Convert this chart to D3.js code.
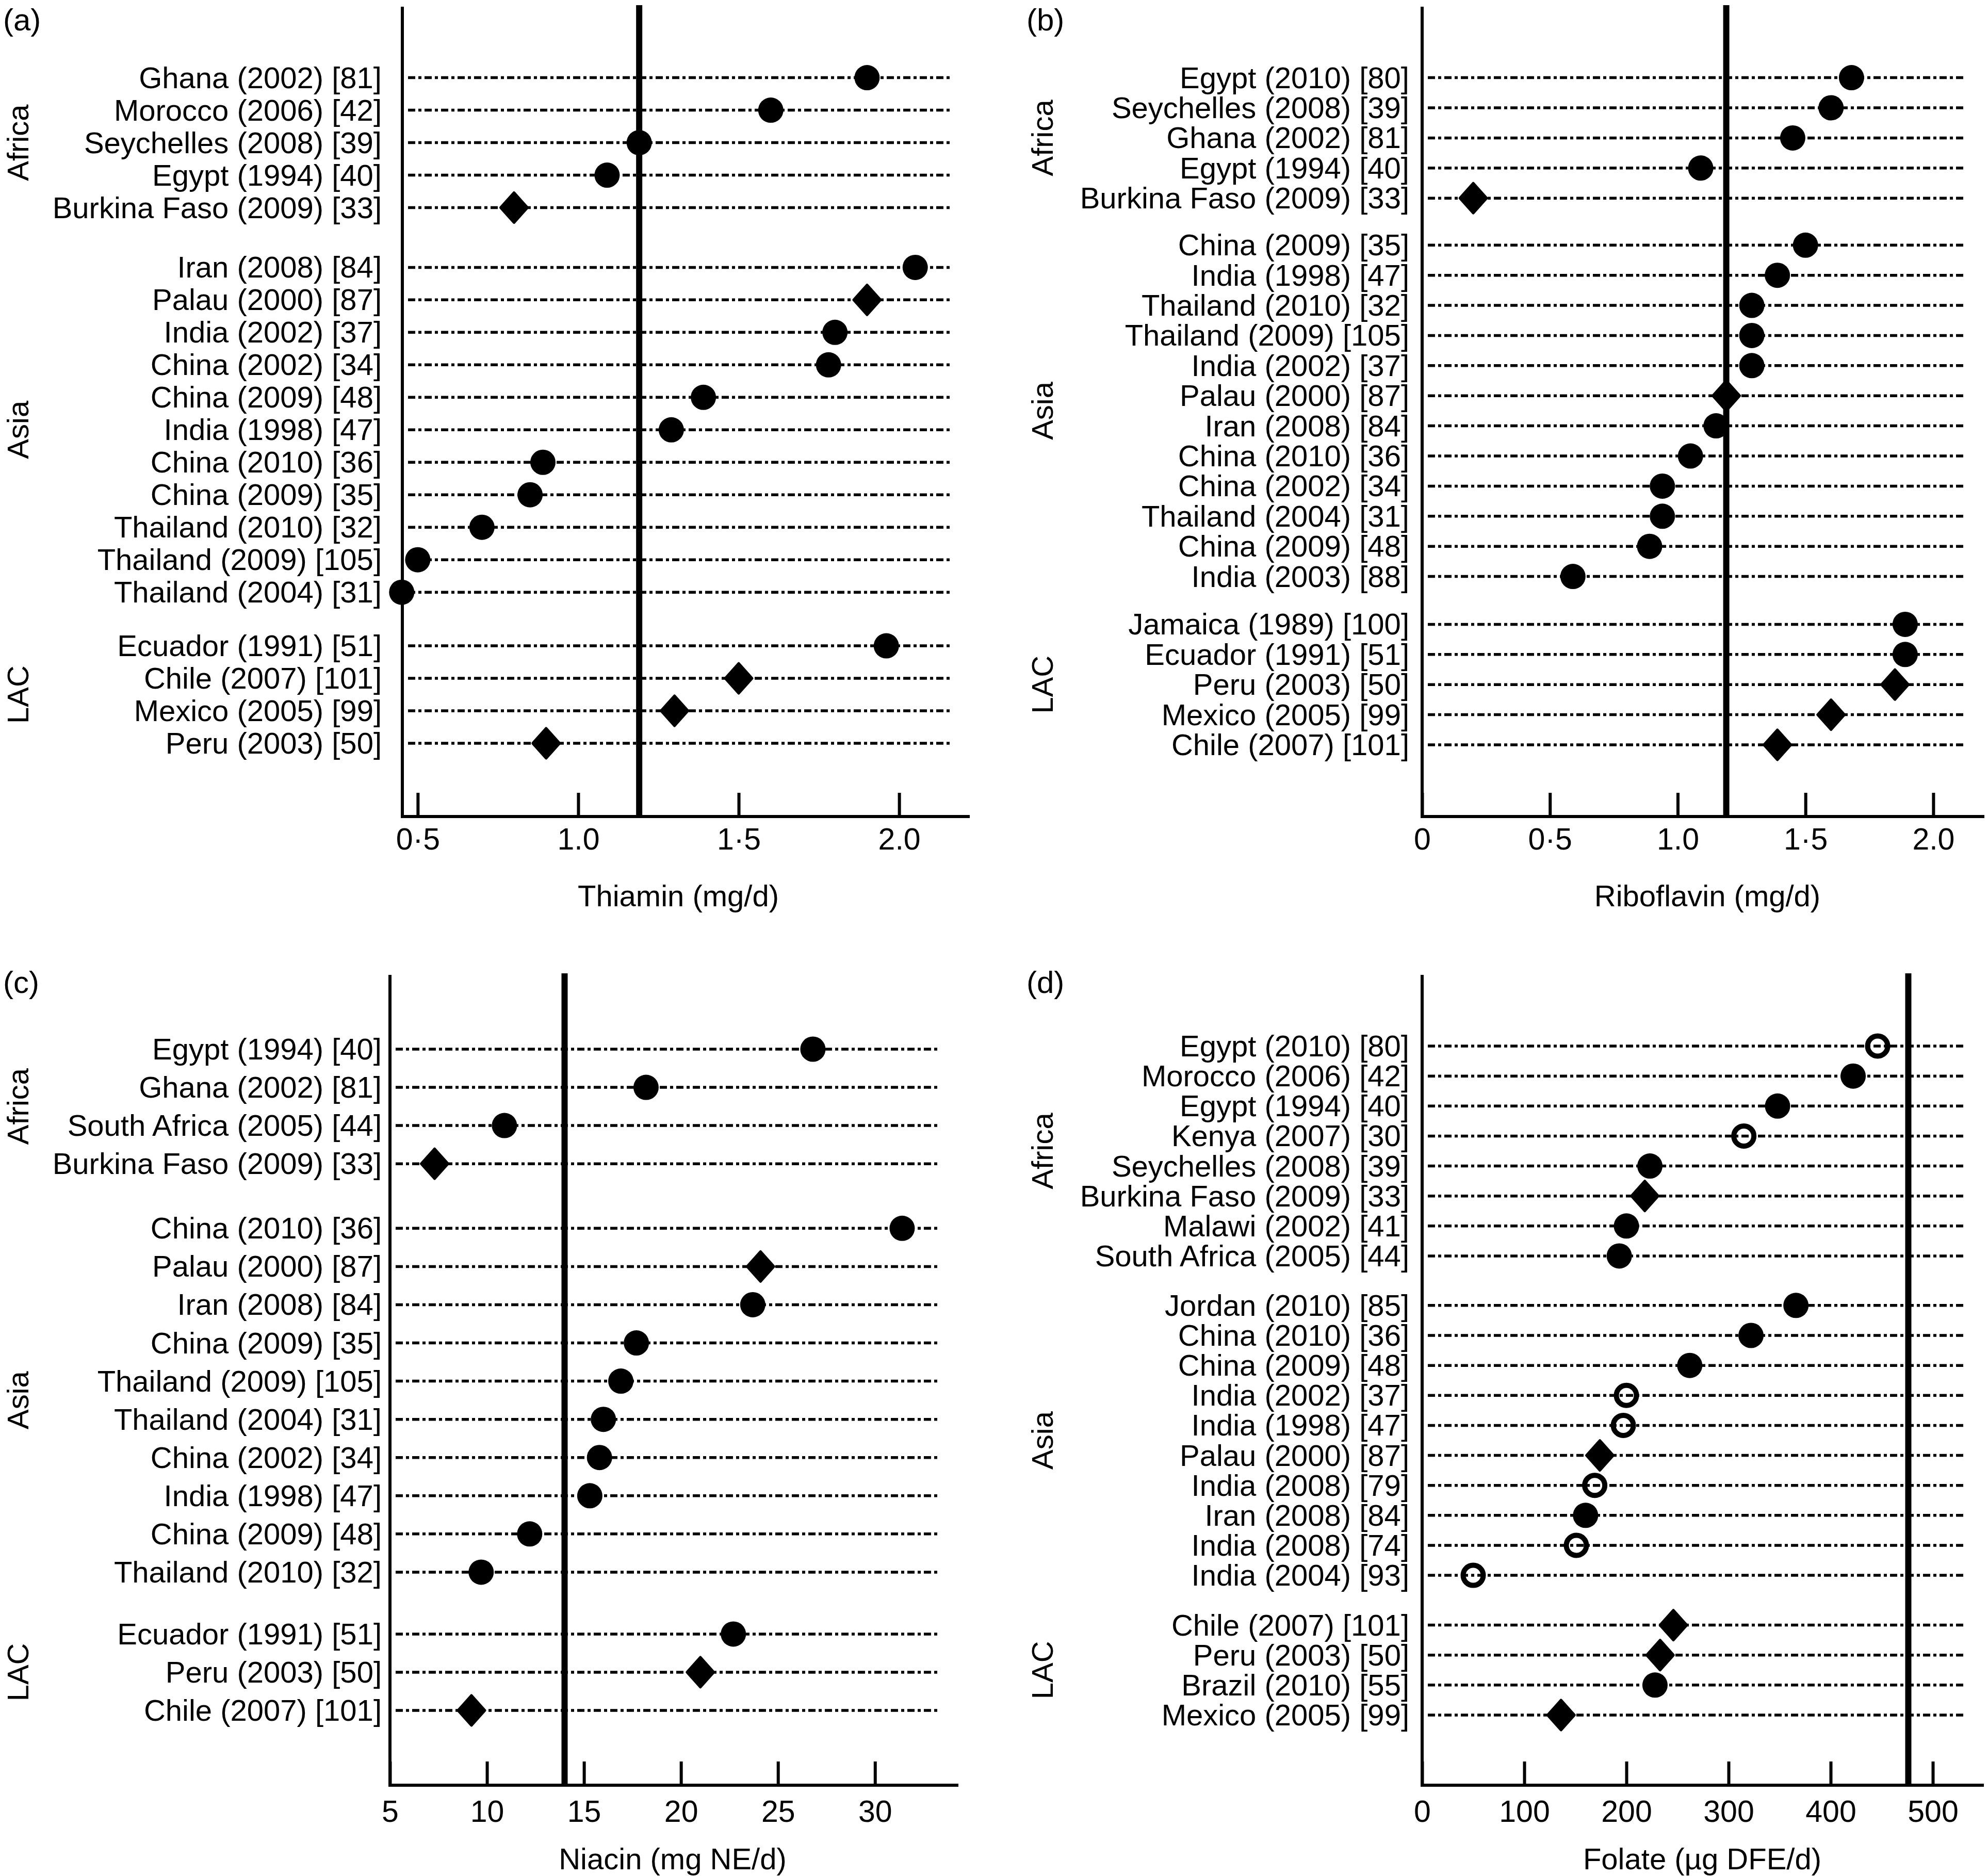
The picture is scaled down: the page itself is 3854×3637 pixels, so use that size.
<!DOCTYPE html>
<html><head><meta charset="utf-8">
<script src="https://cdn.jsdelivr.net/npm/d3@7"></script>
<style>
html,body{margin:0;padding:0;background:#fff;}
svg{display:block;}
text{font-family:"Liberation Sans", Arial, Helvetica, sans-serif;fill:#000;}
</style>
</head><body>
<script>
// ---------------- DATA ----------------
const groupNames = ["Africa", "Asia", "LAC"];

// (a) Thiamin
const thiaminLabels = ["Ghana (2002) [81]","Morocco (2006) [42]","Seychelles (2008) [39]","Egypt (1994) [40]","Burkina Faso (2009) [33]",
  "Iran (2008) [84]","Palau (2000) [87]","India (2002) [37]","China (2002) [34]","China (2009) [48]","India (1998) [47]","China (2010) [36]","China (2009) [35]","Thailand (2010) [32]","Thailand (2009) [105]","Thailand (2004) [31]",
  "Ecuador (1991) [51]","Chile (2007) [101]","Mexico (2005) [99]","Peru (2003) [50]"];
const thiaminGroups = ["Africa","Africa","Africa","Africa","Africa",
  "Asia","Asia","Asia","Asia","Asia","Asia","Asia","Asia","Asia","Asia","Asia",
  "LAC","LAC","LAC","LAC"];
const thiaminValues = [1.90,1.60,1.19,1.09,0.80, 2.05,1.90,1.80,1.78,1.39,1.29,0.89,0.85,0.70,0.50,0.45, 1.96,1.50,1.30,0.90];
const thiaminMarkers = ["c","c","c","c","d", "c","d","c","c","c","c","c","c","c","c","c", "c","d","d","d"];
const thiaminTicks = [0.5,1.0,1.5,2.0];
const thiaminTickLabels = ["0·5","1.0","1·5","2.0"];
const thiaminReference = 1.19;

// (b) Riboflavin
const riboflavinLabels = ["Egypt (2010) [80]","Seychelles (2008) [39]","Ghana (2002) [81]","Egypt (1994) [40]","Burkina Faso (2009) [33]",
  "China (2009) [35]","India (1998) [47]","Thailand (2010) [32]","Thailand (2009) [105]","India (2002) [37]","Palau (2000) [87]","Iran (2008) [84]","China (2010) [36]","China (2002) [34]","Thailand (2004) [31]","China (2009) [48]","India (2003) [88]",
  "Jamaica (1989) [100]","Ecuador (1991) [51]","Peru (2003) [50]","Mexico (2005) [99]","Chile (2007) [101]"];
const riboflavinGroups = ["Africa","Africa","Africa","Africa","Africa",
  "Asia","Asia","Asia","Asia","Asia","Asia","Asia","Asia","Asia","Asia","Asia","Asia",
  "LAC","LAC","LAC","LAC","LAC"];
const riboflavinValues = [1.68,1.60,1.45,1.09,0.20, 1.50,1.39,1.29,1.29,1.29,1.19,1.15,1.05,0.94,0.94,0.89,0.59, 1.89,1.89,1.85,1.60,1.39];
const riboflavinMarkers = ["c","c","c","c","d", "c","c","c","c","c","d","c","c","c","c","c","c", "c","c","d","d","d"];
const riboflavinTicks = [0,0.5,1.0,1.5,2.0];
const riboflavinTickLabels = ["0","0·5","1.0","1·5","2.0"];
const riboflavinReference = 1.19;

// (c) Niacin
const niacinLabels = ["Egypt (1994) [40]","Ghana (2002) [81]","South Africa (2005) [44]","Burkina Faso (2009) [33]",
  "China (2010) [36]","Palau (2000) [87]","Iran (2008) [84]","China (2009) [35]","Thailand (2009) [105]","Thailand (2004) [31]","China (2002) [34]","India (1998) [47]","China (2009) [48]","Thailand (2010) [32]",
  "Ecuador (1991) [51]","Peru (2003) [50]","Chile (2007) [101]"];
const niacinGroups = ["Africa","Africa","Africa","Africa",
  "Asia","Asia","Asia","Asia","Asia","Asia","Asia","Asia","Asia","Asia",
  "LAC","LAC","LAC"];
const niacinValues = [26.8,18.2,10.9,7.3, 31.4,24.1,23.7,17.7,16.9,16.0,15.8,15.3,12.2,9.7, 22.7,21.0,9.2];
const niacinMarkers = ["c","c","c","d", "c","d","c","c","c","c","c","c","c","c", "c","d","d"];
const niacinTicks = [5,10,15,20,25,30];
const niacinTickLabels = ["5","10","15","20","25","30"];
const niacinReference = 14;

// (d) Folate
const folateLabels = ["Egypt (2010) [80]","Morocco (2006) [42]","Egypt (1994) [40]","Kenya (2007) [30]","Seychelles (2008) [39]","Burkina Faso (2009) [33]","Malawi (2002) [41]","South Africa (2005) [44]",
  "Jordan (2010) [85]","China (2010) [36]","China (2009) [48]","India (2002) [37]","India (1998) [47]","Palau (2000) [87]","India (2008) [79]","Iran (2008) [84]","India (2008) [74]","India (2004) [93]",
  "Chile (2007) [101]","Peru (2003) [50]","Brazil (2010) [55]","Mexico (2005) [99]"];
const folateGroups = ["Africa","Africa","Africa","Africa","Africa","Africa","Africa","Africa",
  "Asia","Asia","Asia","Asia","Asia","Asia","Asia","Asia","Asia","Asia",
  "LAC","LAC","LAC","LAC"];
const folateValues = [446,422,348,315,223,218,200,193, 366,322,262,200,197,174,169,160,151,50, 246,233,228,136];
const folateMarkers = ["o","c","c","o","c","d","c","c", "c","c","c","o","o","d","o","c","o","o", "d","d","c","d"];
const folateTicks = [0,100,200,300,400,500];
const folateTickLabels = ["0","100","200","300","400","500"];
const folateReference = 476;

// ---------------- LAYOUT ----------------
const W = 3854, H = 3637;
const svg = d3.select("body").append("svg").attr("width", W).attr("height", H)
  .attr("viewBox", `0 0 ${W} ${H}`);
svg.append("rect").attr("width", W).attr("height", H).attr("fill", "#fff");

const panels = [
  {tag:"(a)", tagX:6, tagY:59, labels:thiaminLabels, groups:thiaminGroups, values:thiaminValues, markers:thiaminMarkers,
   ticks:thiaminTicks, tickLabels:thiaminTickLabels, ref:thiaminReference, title:"Thiamin (mg/d)",
   domain:[0.452,2.22], x0:780, x1:1880, axisY:1583, topY:13, firstY:150.6, lastY:1441, gaps:[1.84,1.65],
   labelX:740, groupX:55, titleX:1315, titleY:1757, tickPad:22},
  {tag:"(b)", tagX:1990, tagY:59, labels:riboflavinLabels, groups:riboflavinGroups, values:riboflavinValues, markers:riboflavinMarkers,
   ticks:riboflavinTicks, tickLabels:riboflavinTickLabels, ref:riboflavinReference, title:"Riboflavin (mg/d)",
   domain:[0,2.2], x0:2757, x1:3847, axisY:1583, topY:13, firstY:150.6, lastY:1444, gaps:[1.56,1.59],
   labelX:2732, groupX:2041, titleX:3310, titleY:1757, tickPad:22},
  {tag:"(c)", tagX:6, tagY:1925, labels:niacinLabels, groups:niacinGroups, values:niacinValues, markers:niacinMarkers,
   ticks:niacinTicks, tickLabels:niacinTickLabels, ref:niacinReference, title:"Niacin (mg NE/d)",
   domain:[5,34.3], x0:756, x1:1858, axisY:3461, topY:1890, firstY:2034, lastY:3316, gaps:[1.69,1.62],
   labelX:740, groupX:55, titleX:1304, titleY:3624, tickPad:29},
  {tag:"(d)", tagX:1990, tagY:1925, labels:folateLabels, groups:folateGroups, values:folateValues, markers:folateMarkers,
   ticks:folateTicks, tickLabels:folateTickLabels, ref:folateReference, title:"Folate (\u00b5g DFE/d)",
   domain:[0,550], x0:2757, x1:3846, axisY:3461, topY:1890, firstY:2028, lastY:3325, gaps:[1.65,1.66],
   labelX:2732, groupX:2041, titleX:3300, titleY:3624, tickPad:29}
];

const FONT = 58;
const AXIS_W = 6;

function drawPanel(cfg) {
  const g = svg.append("g");
  const x = d3.scaleLinear().domain(cfg.domain).range([cfg.x0, cfg.x1]);

  // row positions with group gaps
  const pos = [];
  let p = 0, gi = 0;
  cfg.groups.forEach((grp, i) => {
    if (i > 0) {
      if (grp !== cfg.groups[i-1]) { p += cfg.gaps[gi++]; } else { p += 1; }
    }
    pos.push(p);
  });
  const y = d3.scaleLinear().domain([0, pos[pos.length-1]]).range([cfg.firstY, cfg.lastY]);

  const rows = cfg.labels.map((l, i) => ({label:l, group:cfg.groups[i], value:cfg.values[i], marker:cfg.markers[i], pos:pos[i]}));

  // dashed row guide lines
  g.append("g").selectAll("line").data(rows).join("line")
    .attr("x1", cfg.x0 + 11).attr("x2", cfg.x1 - 37)
    .attr("y1", d => y(d.pos)).attr("y2", d => y(d.pos))
    .attr("stroke", "#000").attr("stroke-width", 5.5)
    .attr("stroke-dasharray", "14,6,6,6");

  // row labels
  g.append("g").selectAll("text").data(rows).join("text")
    .attr("x", cfg.labelX).attr("y", d => y(d.pos) + 20)
    .attr("text-anchor", "end").attr("font-size", FONT)
    .text(d => d.label);

  // group labels
  groupNames.forEach(name => {
    const ps = rows.filter(r => r.group === name).map(r => r.pos);
    const yc = (y(d3.min(ps)) + y(d3.max(ps))) / 2;
    g.append("text")
      .attr("transform", `translate(${cfg.groupX},${yc}) rotate(-90)`)
      .attr("text-anchor", "middle").attr("font-size", FONT)
      .text(name);
  });

  // bottom axis
  const axis = d3.axisBottom(x)
    .tickValues(cfg.ticks)
    .tickFormat((d, i) => cfg.tickLabels[i])
    .tickSize(-46).tickSizeOuter(0).tickPadding(cfg.tickPad);
  const ag = g.append("g").attr("transform", `translate(0,${cfg.axisY})`).call(axis);
  ag.select(".domain").attr("stroke", "#000").attr("stroke-width", AXIS_W)
    .attr("d", `M${cfg.x0 - AXIS_W/2},0H${cfg.x1}`);
  ag.selectAll(".tick line").attr("stroke", "#000").attr("stroke-width", AXIS_W);
  ag.selectAll(".tick text").attr("font-size", 59).attr("fill", "#000")
    .attr("font-family", "\"Liberation Sans\", Arial, sans-serif");

  // left axis line
  g.append("line").attr("x1", cfg.x0).attr("x2", cfg.x0)
    .attr("y1", cfg.topY).attr("y2", cfg.axisY + AXIS_W/2)
    .attr("stroke", "#000").attr("stroke-width", AXIS_W);

  // reference line
  g.append("line").attr("x1", x(cfg.ref)).attr("x2", x(cfg.ref))
    .attr("y1", cfg.topY - 3).attr("y2", cfg.axisY)
    .attr("stroke", "#000").attr("stroke-width", 12);

  // markers
  const mg = g.append("g");
  rows.forEach(d => {
    const cx = x(d.value), cy = y(d.pos);
    if (d.marker === "c") {
      mg.append("circle").attr("cx", cx).attr("cy", cy).attr("r", 24.5).attr("fill", "#000");
    } else if (d.marker === "o") {
      mg.append("circle").attr("cx", cx).attr("cy", cy).attr("r", 19.5)
        .attr("fill", "none").attr("stroke", "#000").attr("stroke-width", 10);
    } else {
      const w = 26, h = 29;
      mg.append("path")
        .attr("d", `M${cx},${cy-h}L${cx+w},${cy}L${cx},${cy+h}L${cx-w},${cy}Z`)
        .attr("fill", "#000").attr("stroke", "#000").attr("stroke-width", 5)
        .attr("stroke-linejoin", "round");
    }
  });

  // axis title
  g.append("text").attr("x", cfg.titleX).attr("y", cfg.titleY)
    .attr("text-anchor", "middle").attr("font-size", FONT).text(cfg.title);

  // panel tag
  g.append("text").attr("x", cfg.tagX).attr("y", cfg.tagY)
    .attr("font-size", 60).text(cfg.tag);
}

panels.forEach(drawPanel);
</script>
</body></html>
